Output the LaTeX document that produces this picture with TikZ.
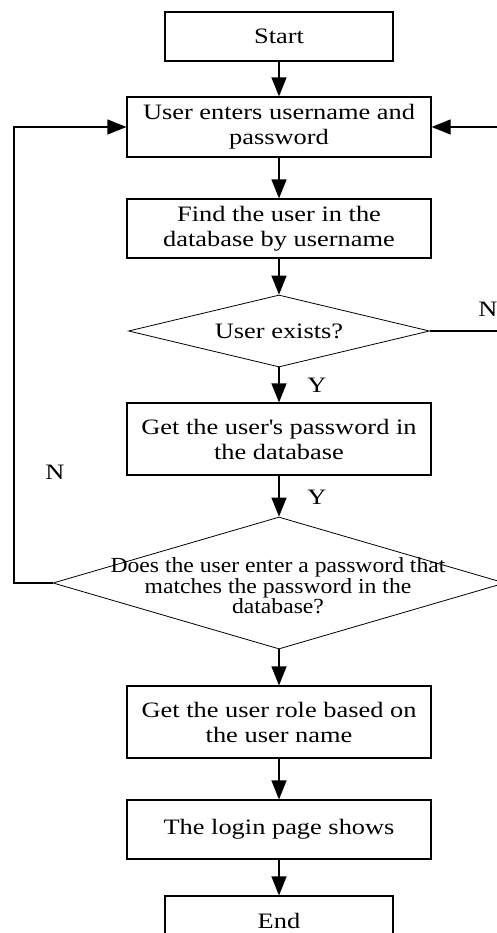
\documentclass[tikz,border=0pt]{standalone}
\usepackage{fontspec}
\setmainfont{Liberation Serif}[FakeStretch=1.2]
\newfontfamily\diafont{Liberation Serif}[FakeStretch=1.1]
\usetikzlibrary{shapes.geometric,arrows.meta}
\begin{document}
\begin{tikzpicture}[x=1pt,y=-1pt,
  box/.style={draw, line width=1.2pt, minimum width=304pt, inner sep=0pt, align=center,
    font=\fontsize{22}{25}\selectfont},
  dia/.style={draw, diamond, line width=0.8pt, inner sep=0pt, align=center,
    font=\fontsize{22}{25}\selectfont},
  diatext/.style={inner sep=0pt, align=center, font=\diafont\fontsize{21.5}{18.5}\selectfont},
  lbl/.style={inner sep=0pt, font=\fontsize{22}{25}\selectfont},
  arr/.style={line width=1.4pt, -{Triangle[length=19pt,width=15pt]}},
  loop/.style={line width=1.2pt, -{Triangle[length=19pt,width=15pt]}}]
\useasboundingbox (0,0) rectangle (497,933);
\clip (0,0) rectangle (497,933);

\node[box, minimum width=228pt, minimum height=49pt] (start) at (279,36.5) {Start};
\node[box, minimum height=60pt] (b2) at (279,127) {User enters username and\\password};
\node[box, minimum height=59pt] (b3) at (279,228.5) {Find the user in the\\database by username};
\node[dia, aspect=4.18, minimum width=301pt, minimum height=72pt] (d1) at (279,331) {User exists?};
\node[box, minimum height=72pt] (b4) at (279,439) {Get the user\textquotesingle s password in\\the database};
\node[dia, aspect=3.42, minimum width=452pt, minimum height=132pt] (d2) at (279,583) {};
\node[diatext] (d2t) at (278,586) {Does the user enter a password that\\matches the password in the\\database?};
\node[box, minimum height=72pt] (b5) at (279,722) {Get the user role based on\\the user name};
\node[box, minimum height=59pt] (b6) at (279,829.5) {The login page shows};
\node[box, minimum width=228pt, minimum height=49pt] (end) at (279,920.5) {End};

\node[lbl] (y1) at (317,385) {Y};
\node[lbl] (y2) at (317,497) {Y};
\node[lbl] (n1) at (488,309) {N};
\node[lbl] (n2) at (55,472) {N};

\coordinate (lc1) at (14,583);
\coordinate (lc2) at (14,127);
\coordinate (rc1) at (530,331);
\coordinate (rc2) at (530,127);

\draw[arr] (start.south) -- (b2.north);
\draw[arr] (b2.south) -- (b3.north);
\draw[arr] (b3.south) -- (d1.north);
\draw[arr] (d1.south) -- (b4.north);
\draw[arr] (b4.south) -- (d2.north);
\draw[arr] (d2.south) -- (b5.north);
\draw[arr] (b5.south) -- (b6.north);
\draw[arr] (b6.south) -- (end.north);
\draw[loop] (d2.west) -- (lc1) -- (lc2) -- (b2.west);
\draw[loop] (d1.east) -- (rc1) -- (rc2) -- (b2.east);
\end{tikzpicture}
\end{document}
